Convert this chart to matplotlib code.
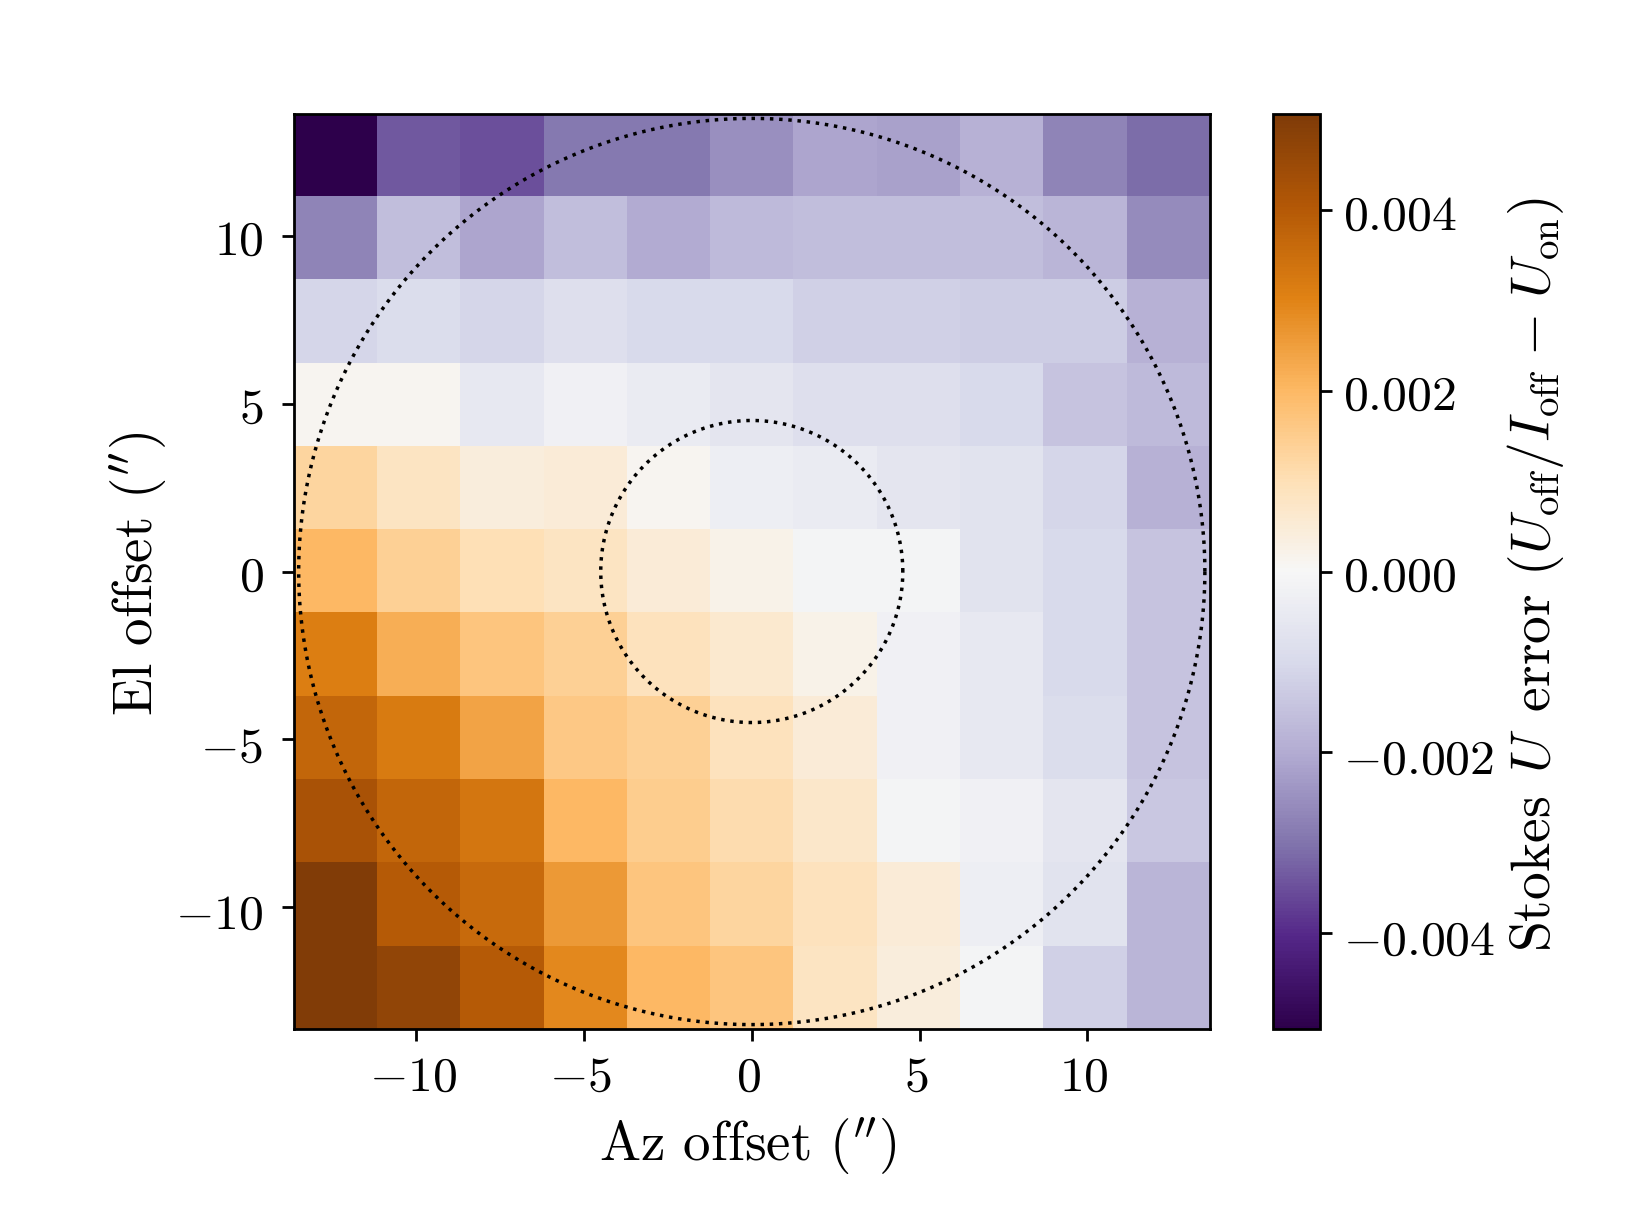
#!/usr/bin/env python3
# -*- coding: utf-8 -*-

import matplotlib
matplotlib.use("Agg")
import matplotlib.pyplot as plt
from matplotlib.transforms import ScaledTranslation
import numpy as np

plt.rcParams['font.family'] = ['cmr10', 'DejaVu Sans']
plt.rcParams['mathtext.fontset'] = 'cm'
plt.rcParams['axes.formatter.use_mathtext'] = True
plt.rcParams['font.size'] = 14.3

row_0 = [-0.0051, -0.0034, -0.0035, -0.0029, -0.0029, -0.0025, -0.0021, -0.0022, -0.0019, -0.0027, -0.0031]
row_1 = [-0.0027, -0.0016, -0.0021, -0.0016, -0.0020, -0.0017, -0.0016, -0.0016, -0.0016, -0.0018, -0.0026]
row_2 = [-0.0011, -0.0009, -0.0011, -0.0008, -0.0010, -0.0010, -0.0012, -0.0012, -0.0013, -0.0013, -0.0019]
row_3 = [0.0001, 0.0001, -0.0005, -0.0002, -0.0004, -0.0006, -0.0008, -0.0008, -0.0010, -0.0015, -0.0017]
row_4 = [0.0013, 0.0008, 0.0004, 0.0005, 0.0001, -0.0003, -0.0004, -0.0006, -0.0007, -0.0011, -0.0019]
row_5 = [0.0020, 0.0014, 0.0010, 0.0008, 0.0005, 0.0002, -0.0001, -0.0001, -0.0007, -0.0010, -0.0015]
row_6 = [0.0031, 0.0022, 0.0017, 0.0014, 0.0009, 0.0006, 0.0002, -0.0002, -0.0005, -0.0010, -0.0015]
row_7 = [0.0037, 0.0032, 0.0024, 0.0016, 0.0014, 0.0009, 0.0005, -0.0002, -0.0005, -0.0009, -0.0015]
row_8 = [0.0042, 0.0037, 0.0033, 0.0020, 0.0015, 0.0011, 0.0007, -0.0001, -0.0002, -0.0006, -0.0014]
row_9 = [0.0050, 0.0040, 0.0036, 0.0026, 0.0017, 0.0013, 0.0009, 0.0005, -0.0003, -0.0007, -0.0018]
row_10 = [0.0050, 0.0047, 0.0040, 0.0029, 0.0020, 0.0017, 0.0008, 0.0004, -0.0001, -0.0012, -0.0018]

half_width = 13.64
color_limit = 0.00507
circle_radii = [4.5, 13.5]
xy_ticks = [-10, -5, 0, 5, 10]
xy_labels = ['$-10$', '$-5$', '$0$', '$5$', '$10$']
cbar_ticks = [-0.004, -0.002, 0, 0.002, 0.004]
cbar_labels = ['$-0.004$', '$-0.002$', '$0.000$', '$0.002$', '$0.004$']

def nudge(labels, fig, dx=0.0):
	for label in labels:
		dy = -1.4 if label.get_text().startswith('$-') else -0.6
		label.set_transform(label.get_transform() + ScaledTranslation(dx / 72, dy / 72, fig.dpi_scale_trans))

if __name__ == "__main__":
	data = np.array([row_0, row_1, row_2, row_3, row_4, row_5, row_6, row_7, row_8, row_9, row_10])
	fig = plt.figure(figsize=(1635 / 250, 1217 / 250), dpi=250)
	ax = fig.add_axes([0.1798, 0.1542, 0.560, 0.7524])
	cax = fig.add_axes([0.7787, 0.1542, 0.0287, 0.7524])

	im = ax.imshow(data, cmap='PuOr_r', vmin=-color_limit, vmax=color_limit, origin='upper', extent=[-half_width, half_width, -half_width, half_width])
	for r in circle_radii:
		t = np.linspace(0, 2 * np.pi, 400)
		ax.plot(r * np.cos(t), r * np.sin(t), color='k', ls=':', lw=1.0)
	ax.set_xlim(-half_width, half_width)
	ax.set_ylim(-half_width, half_width)
	ax.set_xticks(xy_ticks)
	ax.set_xticklabels(xy_labels)
	ax.set_yticks(xy_ticks)
	ax.set_yticklabels(xy_labels)
	ax.tick_params(axis='x', pad=4.4)
	ax.tick_params(axis='y', pad=5.3)
	ax.set_xlabel(r"Az offset ($''$)", fontsize=15.85, labelpad=4.2, x=0.495)
	ax.set_ylabel(r"El offset ($''$)", fontsize=15.85, labelpad=1.7, y=0.497)

	cb = fig.colorbar(im, cax=cax)
	cb.set_ticks(cbar_ticks)
	cb.set_ticklabels(cbar_labels)
	cb.ax.tick_params(pad=3)
	cb.set_label(r"Stokes $\hspace{0.1}U\hspace{0.1}$ error $(U_{\rm off}/I_{\rm off}\hspace{0.1}-\hspace{0.1}U_{\rm on})$", fontsize=16, labelpad=3, y=0.497)

	nudge(ax.get_yticklabels(), fig)
	nudge(cb.ax.get_yticklabels(), fig)
	for label in ax.get_xticklabels():
		label.set_transform(label.get_transform() + ScaledTranslation(-0.9 / 72, 0, fig.dpi_scale_trans))

	fig.savefig('out.png', dpi=250)
